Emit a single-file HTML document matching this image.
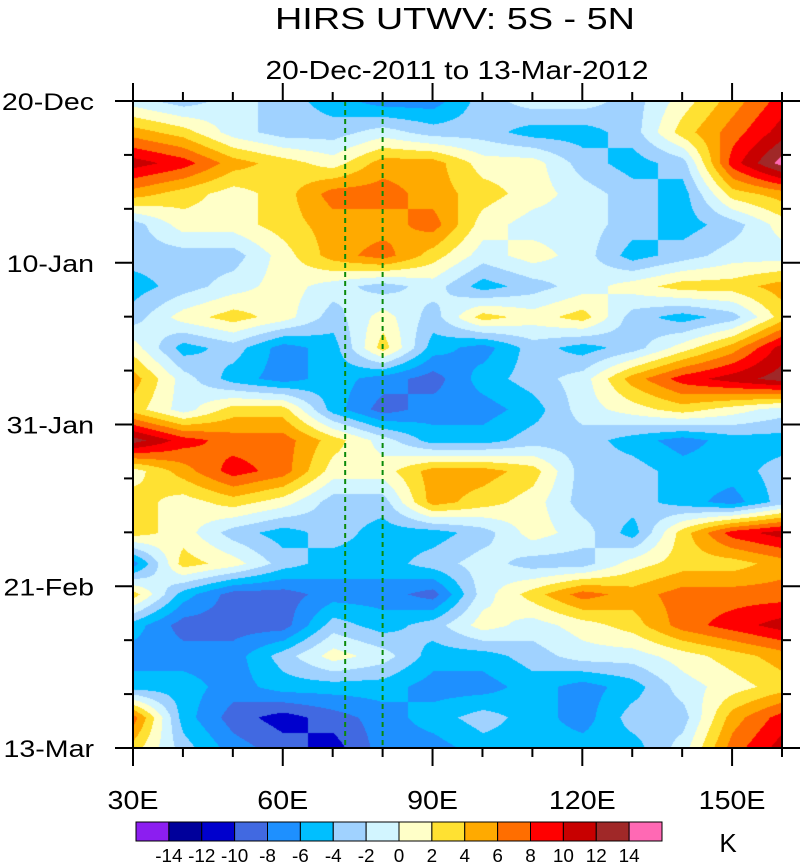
<!DOCTYPE html>
<html><head><meta charset="utf-8"><style>
body{margin:0;background:#fff;width:800px;height:863px;overflow:hidden;font-family:"Liberation Sans",sans-serif}
#wrap{position:relative;width:800px;height:863px}
canvas{position:absolute;left:0;top:0}
svg{position:absolute;left:0;top:0}
</style></head><body><div id="wrap">
<canvas id="cv" width="800" height="863"></canvas>
<svg id="sv" width="800" height="863"></svg>
</div>
<script>
const lons=[30,40,50,60,70,80,90,100,110,120,130,140,150,160];
const days=[0,4,8,12,16,20,24,28,32,36,40,44,48,52,56,60,64,68,72,76,80,84];
const row0=[-1,-3,-1,-3,-5,-7,-7,-3,-1,-1,-3,1,5,9];
const row4=[5,3,-1,-3,-3,-1,-3,-3,-5,-5,-3,3,7,11];
const row8=[11,9,5,3,1,5,5,1,1,-3,-5,-3,9,15];
const row12=[5,3,1,3,7,7,5,3,1,-1,-3,-5,3,5];
const row16=[-3,1,1,3,5,5,7,1,-1,-1,-3,-5,-3,1];
const row20=[-3,-3,-3,1,5,7,3,-1,1,-1,-5,-3,-1,-1];
const row24=[-5,-3,-1,1,-1,-3,-1,-5,-3,-1,1,3,3,5];
const row28=[-3,1,3,1,-3,1,-3,3,1,3,-3,-5,-3,3];
const row32=[1,-5,-3,-7,-5,3,-5,-7,-3,-5,-3,1,5,11];
const row36=[5,-1,-5,-7,-5,-7,-9,-5,-3,-1,5,9,11,13];
const row40=[3,-1,3,3,-5,-9,-7,-7,-5,-1,1,3,1,-1];
const row44=[13,9,7,7,3,-1,-5,-5,-3,-3,-5,-7,-5,-5];
const row48=[1,5,9,7,1,1,5,5,3,-3,-3,-5,-5,-3];
const row52=[3,1,3,1,-3,-3,5,3,1,-3,-3,-5,-7,-3];
const row56=[3,1,-3,-5,-3,-5,-5,-3,1,-1,-5,3,9,11];
const row60=[-7,3,1,-3,-5,-5,-3,-1,-3,-3,1,3,3,5];
const row64=[3,-5,-9,-9,-7,-7,-9,-1,3,7,5,7,7,7];
const row68=[-5,-9,-9,-9,-3,-5,-3,1,-1,1,3,7,9,11];
const row72=[-7,-7,-7,-3,1,-1,-5,-5,-3,-1,-1,1,3,5];
const row76=[-5,-5,-7,-5,-5,-5,-7,-7,-5,-7,-5,-1,1,3];
const row80=[7,-5,-9,-11,-9,-7,-5,-3,-5,-7,-3,-3,5,9];
const row84=[3,-3,-7,-9,-11,-7,-7,-5,-5,-5,-5,-1,7,11];
const levels=[-14,-12,-10,-8,-6,-4,-2,0,2,4,6,8,10,12,14];
const colors=["#8c1ef0","#00009b","#0000cd","#4169e1","#1e90ff","#00bfff","#a0d2ff","#d2f5ff","#ffffc8","#ffe132","#ffaa00","#ff6e00","#ff0000","#c80000","#a02828","#ff69b4"];
const xTickLons=[30,60,90,120,150];
const xTickLabels=["30E","60E","90E","120E","150E"];
const yTickDays=[0,21,42,63,84];
const yTickLabels=["20-Dec","10-Jan","31-Jan","21-Feb","13-Mar"];
const refLons=[72.5,80];

const grid=[row0,row4,row8,row12,row16,row20,row24,row28,row32,row36,row40,row44,row48,row52,row56,row60,row64,row68,row72,row76,row80,row84];
const X0=133,X1=782,Y0=101,Y1=748;
const xs=l=>X0+(l-30)/(160-30)*(X1-X0);
const ys=d=>Y0+d/84*(Y1-Y0);
function hex(c){return [parseInt(c.slice(1,3),16),parseInt(c.slice(3,5),16),parseInt(c.slice(5,7),16)];}
const rgb=colors.map(hex);
const cv=document.getElementById('cv');const ctx=cv.getContext('2d');
const img=ctx.createImageData(X1-X0,Y1-Y0);
for(let py=0;py<Y1-Y0;py++){
  const d=py/(Y1-Y0)*84;
  let j=0;while(j<days.length-2&&d>days[j+1])j++;
  const ty=(d-days[j])/(days[j+1]-days[j]);
  for(let px=0;px<X1-X0;px++){
    const l=30+px/(X1-X0)*130;
    let i=0;while(i<lons.length-2&&l>lons[i+1])i++;
    const tx=(l-lons[i])/(lons[i+1]-lons[i]);
    const v=(grid[j][i]*(1-tx)+grid[j][i+1]*tx)*(1-ty)+(grid[j+1][i]*(1-tx)+grid[j+1][i+1]*tx)*ty;
    let k=0;while(k<levels.length&&v>=levels[k])k++;
    const c=rgb[k];const o=(py*(X1-X0)+px)*4;
    img.data[o]=c[0];img.data[o+1]=c[1];img.data[o+2]=c[2];img.data[o+3]=255;
  }
}
ctx.putImageData(img,X0,Y0);

const NS="http://www.w3.org/2000/svg";const sv=document.getElementById('sv');
function mk(t,a,txt){const e=document.createElementNS(NS,t);for(const k in a)e.setAttribute(k,a[k]);if(txt!=null)e.textContent=txt;sv.appendChild(e);return e;}
function stretch(e,f){const w=e.getComputedTextLength();e.setAttribute('textLength',w*f);e.setAttribute('lengthAdjust','spacingAndGlyphs');}
let e;
refLons.forEach(l=>{e=mk('line',{x1:xs(l),x2:xs(l),y1:Y0,y2:Y1,stroke:'#0a8a0a','stroke-width':2,'stroke-dasharray':'5,4'});

});
e=mk('rect',{x:X0,y:Y0,width:X1-X0,height:Y1-Y0,fill:'none',stroke:'#000','stroke-width':2});


for(let d=0;d<=84;d+=7){const maj=d%21===0;const L=maj?18:9;
 mk('line',{x1:X0-L,x2:X0,y1:ys(d),y2:ys(d),stroke:'#000','stroke-width':2});
 mk('line',{x1:X1,x2:X1+L,y1:ys(d),y2:ys(d),stroke:'#000','stroke-width':2});}
for(let l=30;l<=160;l+=10){const maj=(l%30===0);const L=maj?18:9;
 mk('line',{x1:xs(l),x2:xs(l),y1:Y1,y2:Y1+L,stroke:'#000','stroke-width':2});
 mk('line',{x1:xs(l),x2:xs(l),y1:Y0-L,y2:Y0,stroke:'#000','stroke-width':2});}
yTickDays.forEach((d,i)=>{e=mk('text',{x:94,y:ys(d)+9,'text-anchor':'end','font-size':24},yTickLabels[i]);
stretch(e,1.19);

});
xTickLons.forEach((l,i)=>{
e=mk('text',{x:xs(l),y:809,'text-anchor':'middle','font-size':26},xTickLabels[i]);
stretch(e,1.1);

});
e=mk('text',{x:455,y:29,'text-anchor':'middle','font-size':31},'HIRS UTWV: 5S - 5N');
stretch(e,360/e.getComputedTextLength());


e=mk('text',{x:457,y:79,'text-anchor':'middle','font-size':26},'20-Dec-2011 to 13-Mar-2012');
stretch(e,383/e.getComputedTextLength());


const CB0=136,CBW=(662-136)/colors.length;
colors.forEach((c,i)=>{e=mk('rect',{x:CB0+i*CBW,y:822,width:CBW,height:19,fill:c,stroke:'#000','stroke-width':1});

});
levels.forEach((v,i)=>{e=mk('text',{x:CB0+(i+1)*CBW,y:862,'text-anchor':'middle','font-size':18},String(v));
stretch(e,1.05);

});
e=mk('text',{x:728,y:852,'text-anchor':'middle','font-size':26},'K');


</script></body></html>
